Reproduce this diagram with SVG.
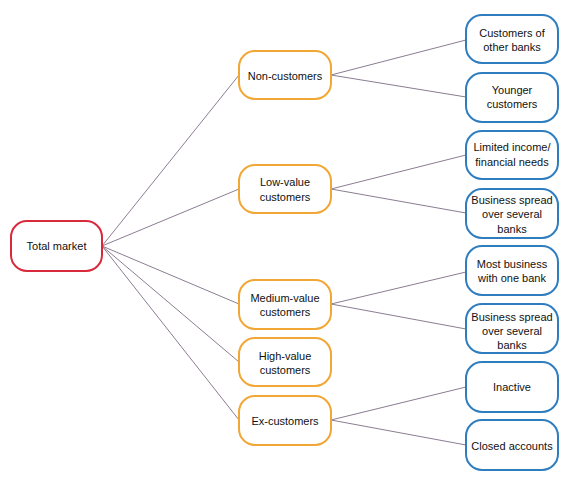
<svg xmlns="http://www.w3.org/2000/svg" width="583" height="491" viewBox="0 0 583 491">
<style>
.n rect{fill:#fff;stroke-width:2}
.root rect{stroke:#d92a3c}
.mid rect{stroke:#f2a634}
.leaf rect{stroke:#2d7dbf}
text{font-family:"Liberation Sans",Arial,sans-serif;font-size:11px;fill:#111;text-anchor:middle}
#connectors line{stroke:#8c7d92;stroke-width:1}
</style>
<rect width="583" height="491" fill="#fff"/>
<g id="connectors">
<line x1="102" y1="246" x2="239" y2="75"/>
<line x1="102" y1="246" x2="239" y2="189"/>
<line x1="102" y1="246" x2="239" y2="304"/>
<line x1="102" y1="246" x2="239" y2="362"/>
<line x1="102" y1="246" x2="239" y2="420"/>
<line x1="331" y1="75" x2="466" y2="40"/>
<line x1="331" y1="75" x2="466" y2="97"/>
<line x1="331" y1="189" x2="466" y2="155"/>
<line x1="331" y1="189" x2="466" y2="213"/>
<line x1="331" y1="304" x2="466" y2="272"/>
<line x1="331" y1="304" x2="466" y2="329"/>
<line x1="331" y1="420" x2="466" y2="387"/>
<line x1="331" y1="420" x2="466" y2="445"/>
</g>
<g id="total-market" class="n root"><rect x="11" y="221" width="91" height="50" rx="16"/><text x="56.5" y="250">Total market</text></g>
<g id="non-customers" class="n mid"><rect x="239" y="51" width="92" height="48" rx="16"/><text x="285" y="79.5">Non-customers</text></g>
<g id="low-value" class="n mid"><rect x="239" y="165" width="92" height="48" rx="16"/><text x="285" y="186">Low-value</text><text x="285" y="200.5">customers</text></g>
<g id="medium-value" class="n mid"><rect x="239" y="280" width="92" height="49" rx="16"/><text x="285" y="301.5">Medium-value</text><text x="285" y="316">customers</text></g>
<g id="high-value" class="n mid"><rect x="239" y="338" width="92" height="48" rx="16"/><text x="285" y="360">High-value</text><text x="285" y="374">customers</text></g>
<g id="ex-customers" class="n mid"><rect x="239" y="396" width="92" height="49" rx="16"/><text x="285" y="424.5">Ex-customers</text></g>
<g id="customers-other-banks" class="n leaf"><rect x="466" y="15" width="92" height="48" rx="16"/><text x="512" y="37">Customers of</text><text x="512" y="51">other banks</text></g>
<g id="younger-customers" class="n leaf"><rect x="466" y="73" width="92" height="49" rx="16"/><text x="512" y="94">Younger</text><text x="512" y="108">customers</text></g>
<g id="limited-income" class="n leaf"><rect x="466" y="131" width="92" height="48" rx="16"/><text x="512" y="151">Limited income/</text><text x="512" y="166">financial needs</text></g>
<g id="business-spread-1" class="n leaf"><rect x="466" y="189" width="92" height="49" rx="16"/><text x="512" y="204">Business spread</text><text x="512" y="218">over several</text><text x="512" y="232.5">banks</text></g>
<g id="most-business" class="n leaf"><rect x="466" y="246" width="92" height="49" rx="16"/><text x="512" y="268">Most business</text><text x="512" y="281.5">with one bank</text></g>
<g id="business-spread-2" class="n leaf"><rect x="466" y="304" width="92" height="49" rx="16"/><text x="512" y="320.5">Business spread</text><text x="512" y="334.5">over several</text><text x="512" y="349">banks</text></g>
<g id="inactive" class="n leaf"><rect x="466" y="362" width="92" height="50" rx="16"/><text x="512" y="391">Inactive</text></g>
<g id="closed-accounts" class="n leaf"><rect x="466" y="420" width="92" height="50" rx="16"/><text x="512" y="449.5">Closed accounts</text></g>
</svg>
